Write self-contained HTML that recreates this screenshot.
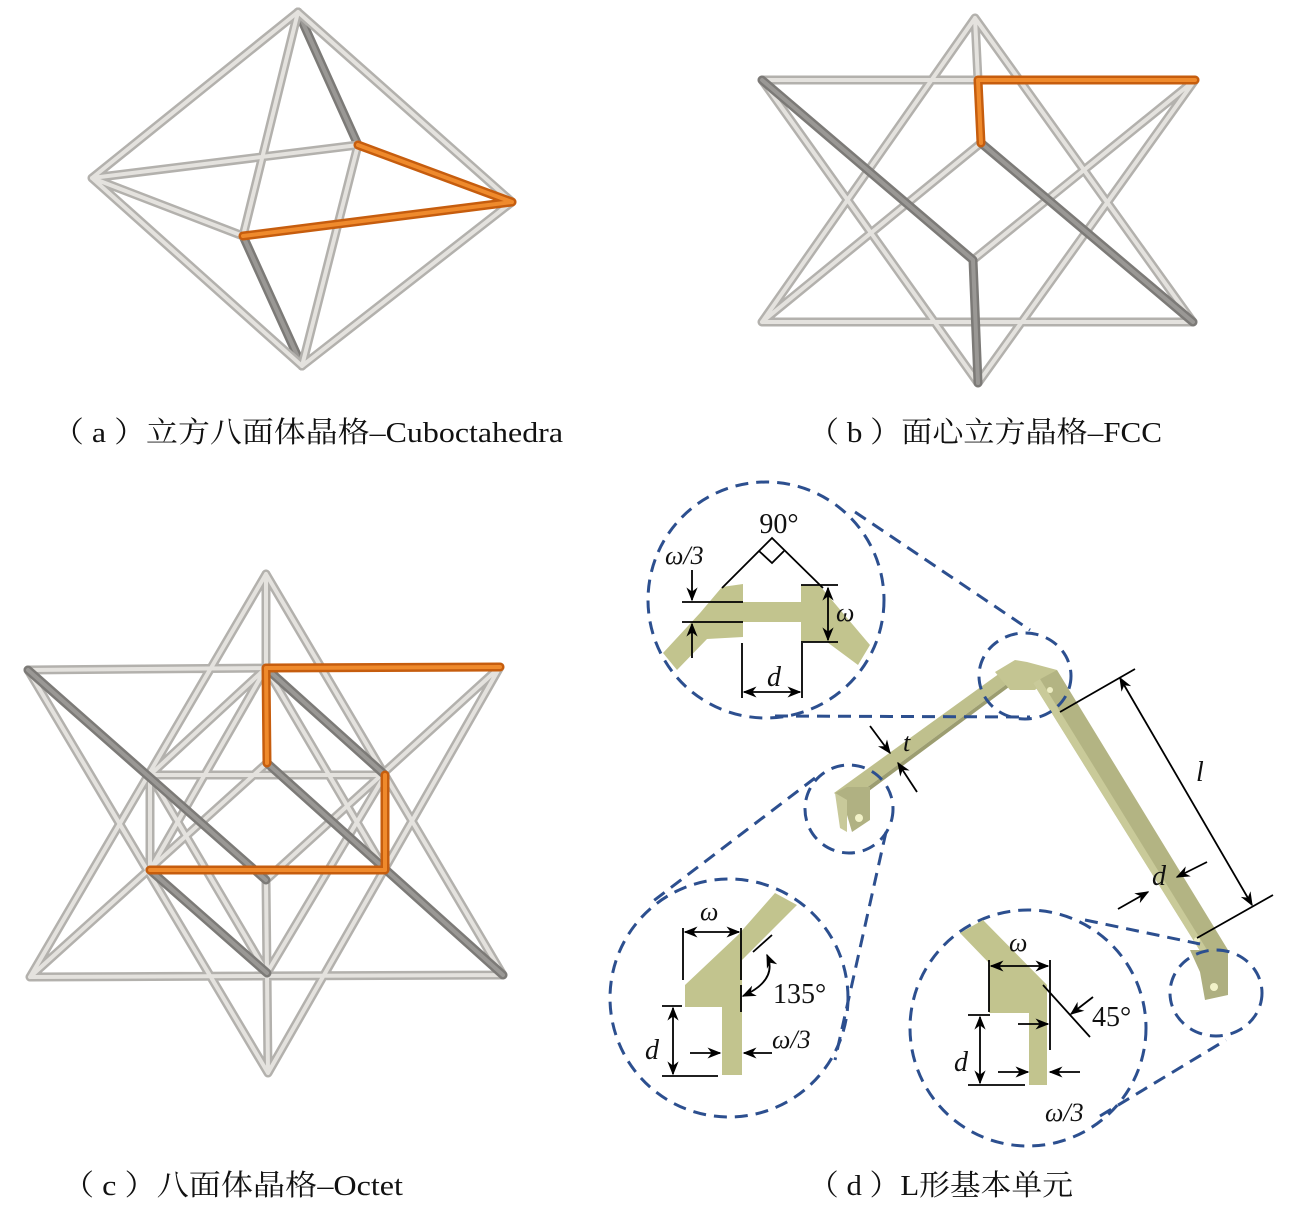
<!DOCTYPE html>
<html><head><meta charset="utf-8"><style>
html,body{margin:0;padding:0;background:#fff;}
svg{display:block;}
.lab{font-family:"Liberation Serif","Noto Serif CJK SC",serif;font-size:29px;fill:#111;}
.it{font-family:"Liberation Serif",serif;font-style:italic;fill:#111;}
.rm{font-family:"Liberation Serif",serif;fill:#111;}
</style></head><body>
<svg width="1295" height="1207" viewBox="0 0 1295 1207" xmlns="http://www.w3.org/2000/svg">
<defs>
<marker id="ar" viewBox="0 0 10 10" refX="9" refY="5" markerWidth="14" markerHeight="14" orient="auto-start-reverse" markerUnits="userSpaceOnUse"><path d="M0,1 L10,5 L0,9 L3,5 Z" fill="#000"/></marker>
<path id="aD" d="M298,12 L358,145 M243,236 L302,366"/>
<path id="aL" d="M298,12 L92,178 M298,12 L512,202 M298,12 L243,236 M302,366 L92,178 M302,366 L512,202 M302,366 L358,145 M92,178 L358,145 M92,178 L243,236"/>
<path id="aO" d="M358,145 L512,202 M243,236 L512,202"/>
<path id="bL" d="M975,18 L762,322 M975,18 L1193,322 M762,322 L1193,322 M762,80 L978,80 M762,80 L978,383 M1195,80 L978,383 M975,18 L978,80 M981,143 L762,322 M973,260 L1195,80"/>
<path id="bD" d="M762,80 L973,260 M981,143 L1193,322 M973,260 L978,383"/>
<path id="bO" d="M978,80 L1195,80 M978,80 L981,143"/>
<path id="cL" d="M266,574 L30,977 M266,574 L503,975 M30,977 L503,975 M28,670 L266,668 M28,670 L268,1073 M500,667 L268,1073 M266,574 L266,668 M267,973 L268,1073 M266,880 L267,973 M150,775 L385,775 M150,775 L150,870 M30,977 L267,763 M500,667 L266,880 M266,668 L150,775 M266,668 L150,870 M266,668 L385,870 M267,973 L150,775 M267,973 L385,775"/>
<path id="cD" d="M28,670 L266,880 M267,763 L503,975 M266,668 L385,775 M150,870 L267,973"/>
<path id="cO" d="M266,668 L500,667 M266,668 L267,763 M385,775 L385,870 M150,870 L385,870"/>
</defs>

<g fill="none" stroke-linecap="round">
<use href="#aD" stroke="#7c7a77" stroke-width="9"/><use href="#aD" stroke="#9a9895" stroke-width="4"/>
<use href="#aL" stroke="#b3b1ad" stroke-width="9"/><use href="#aL" stroke="#e4e2de" stroke-width="4"/>
<use href="#aO" stroke="#c65d0e" stroke-width="9"/><use href="#aO" stroke="#ef8a2c" stroke-width="4"/>

<use href="#bL" stroke="#b3b1ad" stroke-width="9"/><use href="#bL" stroke="#e4e2de" stroke-width="4"/>
<use href="#bD" stroke="#7c7a77" stroke-width="9"/><use href="#bD" stroke="#9a9895" stroke-width="4"/>
<use href="#bO" stroke="#c65d0e" stroke-width="9"/><use href="#bO" stroke="#ef8a2c" stroke-width="4"/>

<use href="#cL" stroke="#b3b1ad" stroke-width="9"/><use href="#cL" stroke="#e4e2de" stroke-width="4"/>
<use href="#cD" stroke="#7c7a77" stroke-width="9"/><use href="#cD" stroke="#9a9895" stroke-width="4"/>
<use href="#cO" stroke="#c65d0e" stroke-width="9"/><use href="#cO" stroke="#ef8a2c" stroke-width="4"/>
</g>

<text class="lab" x="52" y="442" textLength="511" lengthAdjust="spacingAndGlyphs">（ a ）立方八面体晶格–Cuboctahedra</text>
<text class="lab" x="808" y="442" textLength="354" lengthAdjust="spacingAndGlyphs">（ b ）面心立方晶格–FCC</text>
<text class="lab" x="62" y="1195" textLength="341" lengthAdjust="spacingAndGlyphs">（ c ）八面体晶格–Octet</text>
<text class="lab" x="808" y="1195" textLength="265" lengthAdjust="spacingAndGlyphs">（ d ）L形基本单元</text>

<polygon points="834,793 1007,668 1015,678 846,803" fill="#bfc08d"/>
<polygon points="846,803 1015,678 1013,684 846,808" fill="#9c9d70"/>
<polygon points="835,793 847,787 870,787 870,820 852,832 847,815 847,800" fill="#b0b182"/>
<polygon points="835,793 847,800 847,832 840,828" fill="#c8c99a"/>
<circle cx="859" cy="818" r="4" fill="#f2f2c8"/>
<polygon points="995,672 1015,660 1027,662 1057,670 1035,690 1010,690" fill="#c4c592"/>
<polygon points="1033,683 1057,670 1228,950 1207,962" fill="#b3b483"/>
<polygon points="1033,683 1040,679 1212,958 1207,962" fill="#c9ca99"/>
<polygon points="1190,950 1228,950 1228,995 1205,1000 1200,972" fill="#aeaf80"/>
<circle cx="1214" cy="987" r="4" fill="#f2f2c8"/>
<circle cx="1050" cy="690" r="3" fill="#eeeec4"/>
<circle cx="1197" cy="940" r="3" fill="#eeeec4"/>

<g fill="none" stroke="#2c4f8f" stroke-width="3" stroke-dasharray="13,8">
<circle cx="766" cy="600" r="118"/>
<ellipse cx="1025" cy="676" rx="46" ry="43"/>
<path d="M855,512 L1030,630"/>
<path d="M775,716 L1030,717"/>
<circle cx="849" cy="809" r="44"/>
<circle cx="729" cy="998" r="119"/>
<path d="M815,778 L648,905"/>
<path d="M886,832 L835,1060"/>
<ellipse cx="1216" cy="993" rx="46" ry="43"/>
<circle cx="1028" cy="1028" r="118"/>
<path d="M1085,920 L1200,944"/>
<path d="M1100,1116 L1226,1040"/>
</g>

<g fill="#c2c48e">
<polygon points="722,587 743,584 743,637 707,639 677,670 663,653 700,613"/>
<rect x="740" y="602" width="62" height="20"/>
<polygon points="801,585 820,586 870,645 858,665 827,642 801,642"/>
</g>
<g stroke="#000" stroke-width="1.8" fill="none">
<path d="M722,588 L772,538 L823,588"/>
<path d="M759,551 L772,563 L784,551"/>
<path d="M682,602 L743,602 M682,622 L743,622"/>
<path d="M692,570 L692,600" marker-end="url(#ar)"/>
<path d="M692,658 L692,624" marker-end="url(#ar)"/>
<path d="M801,585 L838,585 M801,642 L838,642"/>
<path d="M828,588 L828,640" marker-start="url(#ar)" marker-end="url(#ar)"/>
<path d="M742,643 L742,698 M802,643 L802,698"/>
<path d="M744,692 L800,692" marker-start="url(#ar)" marker-end="url(#ar)"/>
</g>
<text class="rm" x="779" y="533" font-size="28" text-anchor="middle">90°</text>
<text class="it" x="665" y="564" font-size="26">ω/3</text>
<text class="it" x="836" y="621" font-size="26">ω</text>
<text class="it" x="767" y="686" font-size="28">d</text>

<polygon points="685,985 738,935 775,893 797,905 742,960 742,1075 722,1075 722,1007 685,1007" fill="#c2c48e"/>
<g stroke="#000" stroke-width="1.8" fill="none">
<path d="M683,928 L683,980 M741,928 L741,980 M741,985 L741,1012"/>
<path d="M685,932 L739,932" marker-start="url(#ar)" marker-end="url(#ar)"/>
<path d="M753,952 L772,935"/>
<path d="M767,955 Q778,980 743,996" marker-start="url(#ar)" marker-end="url(#ar)"/>
<path d="M662,1006 L682,1006 M662,1076 L718,1076"/>
<path d="M673,1008 L673,1074" marker-start="url(#ar)" marker-end="url(#ar)"/>
<path d="M690,1053 L720,1053" marker-end="url(#ar)"/>
<path d="M772,1053 L744,1053" marker-end="url(#ar)"/>
</g>
<text class="it" x="700" y="920" font-size="26">ω</text>
<text class="rm" x="773" y="1003" font-size="28">135°</text>
<text class="it" x="645" y="1059" font-size="28">d</text>
<text class="it" x="772" y="1048" font-size="26">ω/3</text>

<polygon points="960,933 983,920 1047,985 1047,1085 1029,1085 1029,1013 989,1013 989,963" fill="#c2c48e"/>
<g stroke="#000" stroke-width="1.8" fill="none">
<path d="M989,960 L989,1012 M1050,960 L1050,1050"/>
<path d="M991,966 L1048,966" marker-start="url(#ar)" marker-end="url(#ar)"/>
<path d="M1043,985 L1090,1037"/>
<path d="M1093,997 L1071,1014" marker-end="url(#ar)"/>
<path d="M968,1015 L990,1015 M968,1085 L1025,1085"/>
<path d="M980,1017 L980,1083" marker-start="url(#ar)" marker-end="url(#ar)"/>
<path d="M1018,1024 L1048,1024" marker-end="url(#ar)"/>
<path d="M998,1072 L1028,1072" marker-end="url(#ar)"/>
<path d="M1080,1072 L1050,1072" marker-end="url(#ar)"/>
</g>
<text class="it" x="1009" y="951" font-size="26">ω</text>
<text class="rm" x="1092" y="1026" font-size="28">45°</text>
<text class="it" x="954" y="1071" font-size="28">d</text>
<text class="it" x="1045" y="1121" font-size="26">ω/3</text>

<g stroke="#000" stroke-width="1.8" fill="none">
<path d="M1060,712 L1135,669 M1197,938 L1273,895"/>
<path d="M1120,678 L1252,905" marker-start="url(#ar)" marker-end="url(#ar)"/>
<path d="M870,726 L890,753" marker-end="url(#ar)"/>
<path d="M917,792 L898,763" marker-end="url(#ar)"/>
<path d="M1207,862 L1177,877" marker-end="url(#ar)"/>
<path d="M1118,909 L1148,892" marker-end="url(#ar)"/>
</g>
<text class="it" x="1196" y="781" font-size="28">l</text>
<text class="it" x="903" y="751" font-size="26">t</text>
<text class="it" x="1152" y="885" font-size="28">d</text>
</svg>
</body></html>
